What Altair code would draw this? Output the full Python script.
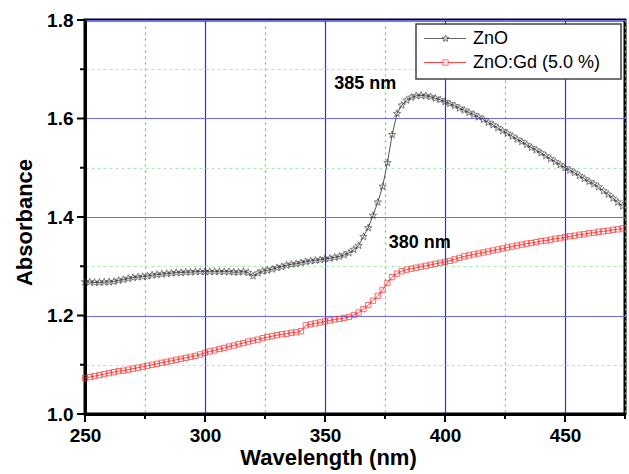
import altair as alt
import pandas as pd

wavelength = list(range(250, 476, 2))

zno = [1.268, 1.268, 1.267, 1.267, 1.268, 1.268, 1.269, 1.271, 1.273, 1.275,
       1.277, 1.278, 1.279, 1.280, 1.282, 1.283, 1.284, 1.285, 1.286, 1.287,
       1.287, 1.288, 1.288, 1.289, 1.289, 1.289, 1.289, 1.289, 1.289, 1.289,
       1.289, 1.288, 1.288, 1.289, 1.287, 1.280, 1.286, 1.290, 1.292, 1.294,
       1.297, 1.299, 1.302, 1.304, 1.305, 1.307, 1.309, 1.311, 1.312, 1.313,
       1.315, 1.316, 1.318, 1.320, 1.323, 1.327, 1.334, 1.342, 1.360, 1.378,
       1.403, 1.430, 1.462, 1.510, 1.567, 1.610, 1.627, 1.637, 1.643, 1.646,
       1.647, 1.646, 1.644, 1.641, 1.638, 1.634, 1.630, 1.626, 1.621, 1.617,
       1.612, 1.608, 1.603, 1.598, 1.592, 1.587, 1.581, 1.575, 1.570, 1.564,
       1.558, 1.553, 1.547, 1.541, 1.536, 1.530, 1.524, 1.518, 1.512, 1.506,
       1.500, 1.495, 1.490, 1.484, 1.478, 1.472, 1.467, 1.461, 1.453, 1.446,
       1.438, 1.430, 1.422]

zno_gd = [1.073, 1.075, 1.077, 1.079, 1.081, 1.083, 1.085, 1.087, 1.088, 1.090,
          1.092, 1.094, 1.096, 1.098, 1.100, 1.102, 1.104, 1.106, 1.108, 1.110,
          1.112, 1.114, 1.116, 1.118, 1.121, 1.124, 1.127, 1.129, 1.132, 1.134,
          1.137, 1.139, 1.142, 1.144, 1.147, 1.149, 1.151, 1.154, 1.156, 1.158,
          1.160, 1.162, 1.163, 1.165, 1.166, 1.168, 1.180, 1.182, 1.184, 1.186,
          1.188, 1.190, 1.192, 1.193, 1.195, 1.197, 1.201, 1.206, 1.213, 1.221,
          1.230, 1.240, 1.252, 1.266, 1.278, 1.285, 1.290, 1.293, 1.295, 1.297,
          1.299, 1.301, 1.303, 1.305, 1.307, 1.309, 1.311, 1.314, 1.317, 1.320,
          1.322, 1.324, 1.326, 1.328, 1.330, 1.332, 1.334, 1.336, 1.338, 1.340,
          1.342, 1.344, 1.346, 1.347, 1.349, 1.351, 1.352, 1.354, 1.356, 1.357,
          1.359, 1.361, 1.362, 1.364, 1.365, 1.367, 1.368, 1.370, 1.371, 1.372,
          1.374, 1.375, 1.377]

series_names = ["ZnO", "ZnO:Gd (5.0 %)"]
x_major = [250, 300, 350, 400, 450]
x_minor = [275, 325, 375, 425, 475]
y_major = [1.0, 1.2, 1.4, 1.6, 1.8]
y_minor = [1.1, 1.3, 1.5, 1.7]
x_ticks = sorted(x_major + x_minor)
y_ticks = sorted(y_major + y_minor)
ann_text = ["385 nm", "380 nm"]
ann_x = [366.8, 389.5]
ann_y = [1.670, 1.347]

STAR = ("M0,-1L0.235,-0.324L0.951,-0.309L0.380,0.124L0.588,0.809L0,0.4"
        "L-0.588,0.809L-0.380,0.124L-0.951,-0.309L-0.235,-0.324Z")

df1 = pd.DataFrame({"wl": wavelength, "abs": zno})
df2 = pd.DataFrame({"wl": wavelength, "abs": zno_gd})
ann = pd.DataFrame({"t": ann_text, "wl": ann_x, "abs": ann_y})

FONT = "Liberation Sans"

xs = alt.Scale(domain=[250, 475], nice=False, zero=False)
ys = alt.Scale(domain=[1.0, 1.8], nice=False, zero=False)

x_axis = alt.Axis(
    values=x_ticks, title="Wavelength (nm)",
    labelExpr="datum.value % 50 === 0 ? datum.label : ''",
    ticks=False,
    gridColor={"condition": {"test": "datum.value % 50 === 0", "value": "#2a2aff"}, "value": "#22ee22"},
    gridDash={"condition": {"test": "datum.value % 50 === 0", "value": []}, "value": [2, 4]},
    gridWidth=1.2,
    labelFontSize=19, labelFontWeight="bold", labelFont=FONT, labelColor="black",
    labelPadding=12, labelFlush=False,
    titleFontSize=22, titleFontWeight="bold", titleFont=FONT, titleColor="black",
    titlePadding=2, titleX=243,
    domainWidth=3, domainColor="black",
)
y_axis = alt.Axis(
    values=y_ticks, title="Absorbance", format=".1f",
    labelExpr="round(datum.value*10) % 2 === 0 ? datum.label : ''",
    ticks=False,
    gridColor={"condition": {"test": "round(datum.value*10) % 2 === 0", "value": "#6a6aff"}, "value": "#aaeeaa"},
    gridDash={"condition": {"test": "round(datum.value*10) % 2 === 0", "value": []}, "value": [3, 3]},
    gridWidth=1.2,
    labelFontSize=19, labelFontWeight="bold", labelFont=FONT, labelColor="black",
    labelPadding=12, labelFlush=False,
    titleFontSize=22, titleFontWeight="bold", titleFont=FONT, titleColor="black",
    titlePadding=10, titleY=202,
    domainWidth=3, domainColor="black",
)

base1 = alt.Chart(df1)
base2 = alt.Chart(df2)

line1 = base1.mark_line(color="#555555", strokeWidth=1).encode(
    x=alt.X("wl:Q", scale=xs, axis=x_axis),
    y=alt.Y("abs:Q", scale=ys, axis=y_axis),
)
pts1 = base1.mark_point(shape=STAR, size=60, filled=False, color="#333333", strokeWidth=0.9).encode(
    x=alt.X("wl:Q", scale=xs), y=alt.Y("abs:Q", scale=ys))
line2 = base2.mark_line(color="#ff4444", strokeWidth=1).encode(
    x=alt.X("wl:Q", scale=xs), y=alt.Y("abs:Q", scale=ys))
pts2 = base2.mark_point(shape="square", size=28, filled=False, color="#ff2a2a", strokeWidth=1).encode(
    x=alt.X("wl:Q", scale=xs), y=alt.Y("abs:Q", scale=ys))

anno = alt.Chart(ann).mark_text(font=FONT, fontSize=18, fontWeight="bold", color="black").encode(
    x=alt.X("wl:Q", scale=xs), y=alt.Y("abs:Q", scale=ys), text="t:N")

# tick marks (drawn outside the plot area, so clipping is turned off)
xt_major = alt.Chart(pd.DataFrame({"v": x_major})).mark_rule(color="black", strokeWidth=2, clip=False).encode(
    x=alt.X("v:Q", scale=xs), y=alt.value(394), y2=alt.value(402))
xt_minor = alt.Chart(pd.DataFrame({"v": x_minor})).mark_rule(color="black", strokeWidth=2, clip=False).encode(
    x=alt.X("v:Q", scale=xs), y=alt.value(394), y2=alt.value(399))
yt_major = alt.Chart(pd.DataFrame({"v": y_major})).mark_rule(color="black", strokeWidth=2, clip=False).encode(
    y=alt.Y("v:Q", scale=ys), x=alt.value(-8), x2=alt.value(0))
yt_minor = alt.Chart(pd.DataFrame({"v": y_minor})).mark_rule(color="black", strokeWidth=2, clip=False).encode(
    y=alt.Y("v:Q", scale=ys), x=alt.value(-5), x2=alt.value(0))

# legend (drawn manually)
one = pd.DataFrame({"a": [0]})
leg_box = alt.Chart(one).mark_rect(fill="white", stroke="#444444", strokeWidth=1.5).encode(
    x=alt.value(331), x2=alt.value(536), y=alt.value(4), y2=alt.value(59))
leg_df = pd.DataFrame({"name": series_names, "row": [0, 1]})
leg_line1 = alt.Chart(one).mark_rule(color="#666666", strokeWidth=1).encode(
    x=alt.value(339), x2=alt.value(381), y=alt.value(18.5))
leg_line2 = alt.Chart(one).mark_rule(color="#ff4444", strokeWidth=1).encode(
    x=alt.value(339), x2=alt.value(381), y=alt.value(42.5))
leg_pt1 = alt.Chart(one).mark_point(shape=STAR, size=50, filled=True, fill="white", stroke="#333333", strokeWidth=1).encode(
    x=alt.value(360.5), y=alt.value(18.5))
leg_pt2 = alt.Chart(one).mark_point(shape="square", size=28, filled=True, fill="white", stroke="#ff2a2a", strokeWidth=1).encode(
    x=alt.value(360.5), y=alt.value(42.5))
leg_t1 = alt.Chart(leg_df.iloc[[0]]).mark_text(font=FONT, fontSize=18, align="left", baseline="middle", color="black").encode(
    x=alt.value(388), y=alt.value(19), text="name:N")
leg_t2 = alt.Chart(leg_df.iloc[[1]]).mark_text(font=FONT, fontSize=18, align="left", baseline="middle", color="black").encode(
    x=alt.value(388), y=alt.value(43), text="name:N")

chart = alt.layer(
    line1, pts1, line2, pts2, anno,
    xt_major, xt_minor, yt_major, yt_minor,
    leg_box, leg_line1, leg_line2, leg_pt1, leg_pt2, leg_t1, leg_t2,
).properties(
    width=540, height=394, autosize="none",
    padding={"left": 85, "top": 20, "right": 4, "bottom": 60},
    background="white",
).configure_view(stroke="black", strokeWidth=3)

chart.save("out.html", embed_options={"renderer": "svg", "actions": False})
